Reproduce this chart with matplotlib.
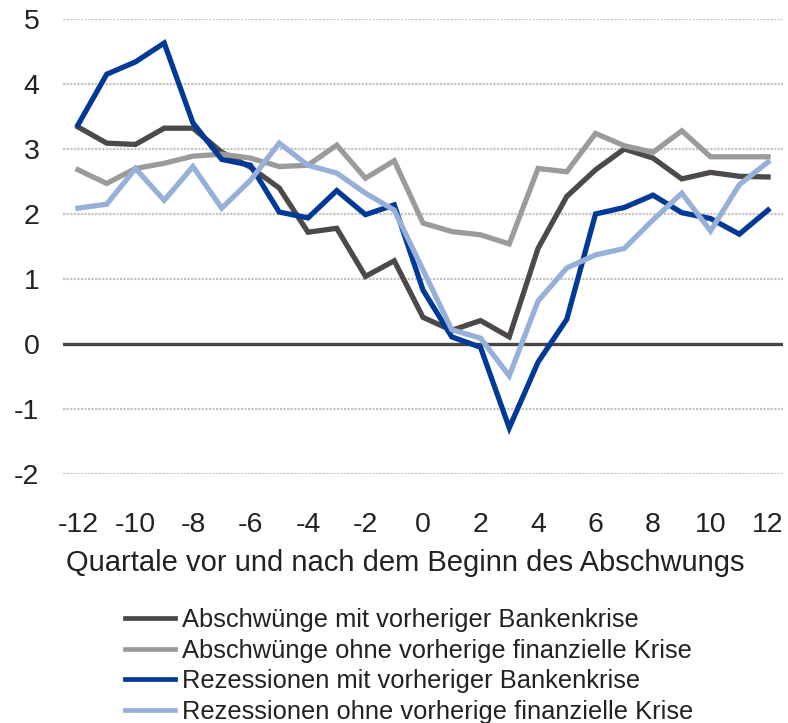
import numpy as np
import matplotlib
matplotlib.use("Agg")
import matplotlib.pyplot as plt

plt.rcParams['font.family'] = ['Liberation Sans', 'DejaVu Sans']
plt.rcParams['axes.unicode_minus'] = False

# Quartale relativ zum Beginn des Abschwungs
quarters = list(range(-12, 13))

abschw_bank = [3.34, 3.09, 3.07, 3.32, 3.32, 2.95, 2.72, 2.40, 1.72, 1.78, 1.04, 1.28,
               0.41, 0.21, 0.36, 0.11, 1.47, 2.27, 2.68, 3.00, 2.86, 2.54, 2.64, 2.58, 2.57]
abschw_ohne = [2.68, 2.47, 2.70, 2.78, 2.89, 2.92, 2.86, 2.73, 2.75, 3.06, 2.55, 2.82,
               1.86, 1.73, 1.68, 1.54, 2.70, 2.65, 3.24, 3.05, 2.95, 3.28, 2.88, 2.88, 2.88]
rez_bank = [3.37, 4.15, 4.34, 4.63, 3.40, 2.84, 2.75, 2.03, 1.94, 2.36, 1.99, 2.14,
            0.83, 0.11, -0.05, -1.29, -0.28, 0.38, 2.00, 2.10, 2.29, 2.02, 1.93, 1.69, 2.06]
rez_ohne = [2.09, 2.15, 2.70, 2.21, 2.73, 2.09, 2.52, 3.09, 2.75, 2.63, 2.32, 2.06,
            1.14, 0.22, 0.09, -0.49, 0.66, 1.17, 1.37, 1.47, 1.91, 2.32, 1.74, 2.45, 2.80]

labels = ["Abschwünge mit vorheriger Bankenkrise",
          "Abschwünge ohne vorherige finanzielle Krise",
          "Rezessionen mit vorheriger Bankenkrise",
          "Rezessionen ohne vorherige finanzielle Krise"]
colors = ['#4d4949', '#9b9b9b', '#003a96', '#97b0d9']

fig = plt.figure(figsize=(7.88, 7.23), dpi=100)
ax = fig.add_axes([63/788, 1 - 474/723, 720/788, 455/723])

for y in range(-2, 6):
    if y != 0:
        ax.axhline(y, color='#c4c4c4', lw=1.6, ls=(0, (1, 0.6)), zorder=1)
ax.axhline(0, color='#4a4646', lw=2.4, zorder=2)

for series, lab, c in zip([abschw_bank, abschw_ohne, rez_bank, rez_ohne], labels, colors):
    ax.plot(quarters, series, color=c, lw=3.8, label=lab, zorder=3,
            solid_joinstyle='miter')

ax.set_xlim(-12.52, 12.52)
ax.set_ylim(-2, 5)
ax.set_xticks(range(-12, 13, 2))
ax.set_yticks(range(-2, 6))
ax.tick_params(axis='both', length=0, labelsize=20.5, colors='#222222')
ax.tick_params(axis='x', pad=27)
ax.tick_params(axis='y', pad=17)
for s in ax.spines.values():
    s.set_visible(False)

fig.text(405/788, 1 - 563/723, "Quartale vor und nach dem Beginn des Abschwungs",
         ha='center', va='center', fontsize=21, color='#222222')

leg = fig.legend(loc='upper left', bbox_to_anchor=(125/788, 1 - 608/723),
                 frameon=False, fontsize=18.4, handlelength=1.95, handletextpad=0.3,
                 labelspacing=0.26, borderpad=0, borderaxespad=0)
for t in leg.get_texts():
    t.set_color('#222222')
for h in leg.get_lines():
    h.set_linewidth(3.4)

fig.savefig('out.png', dpi=100)
